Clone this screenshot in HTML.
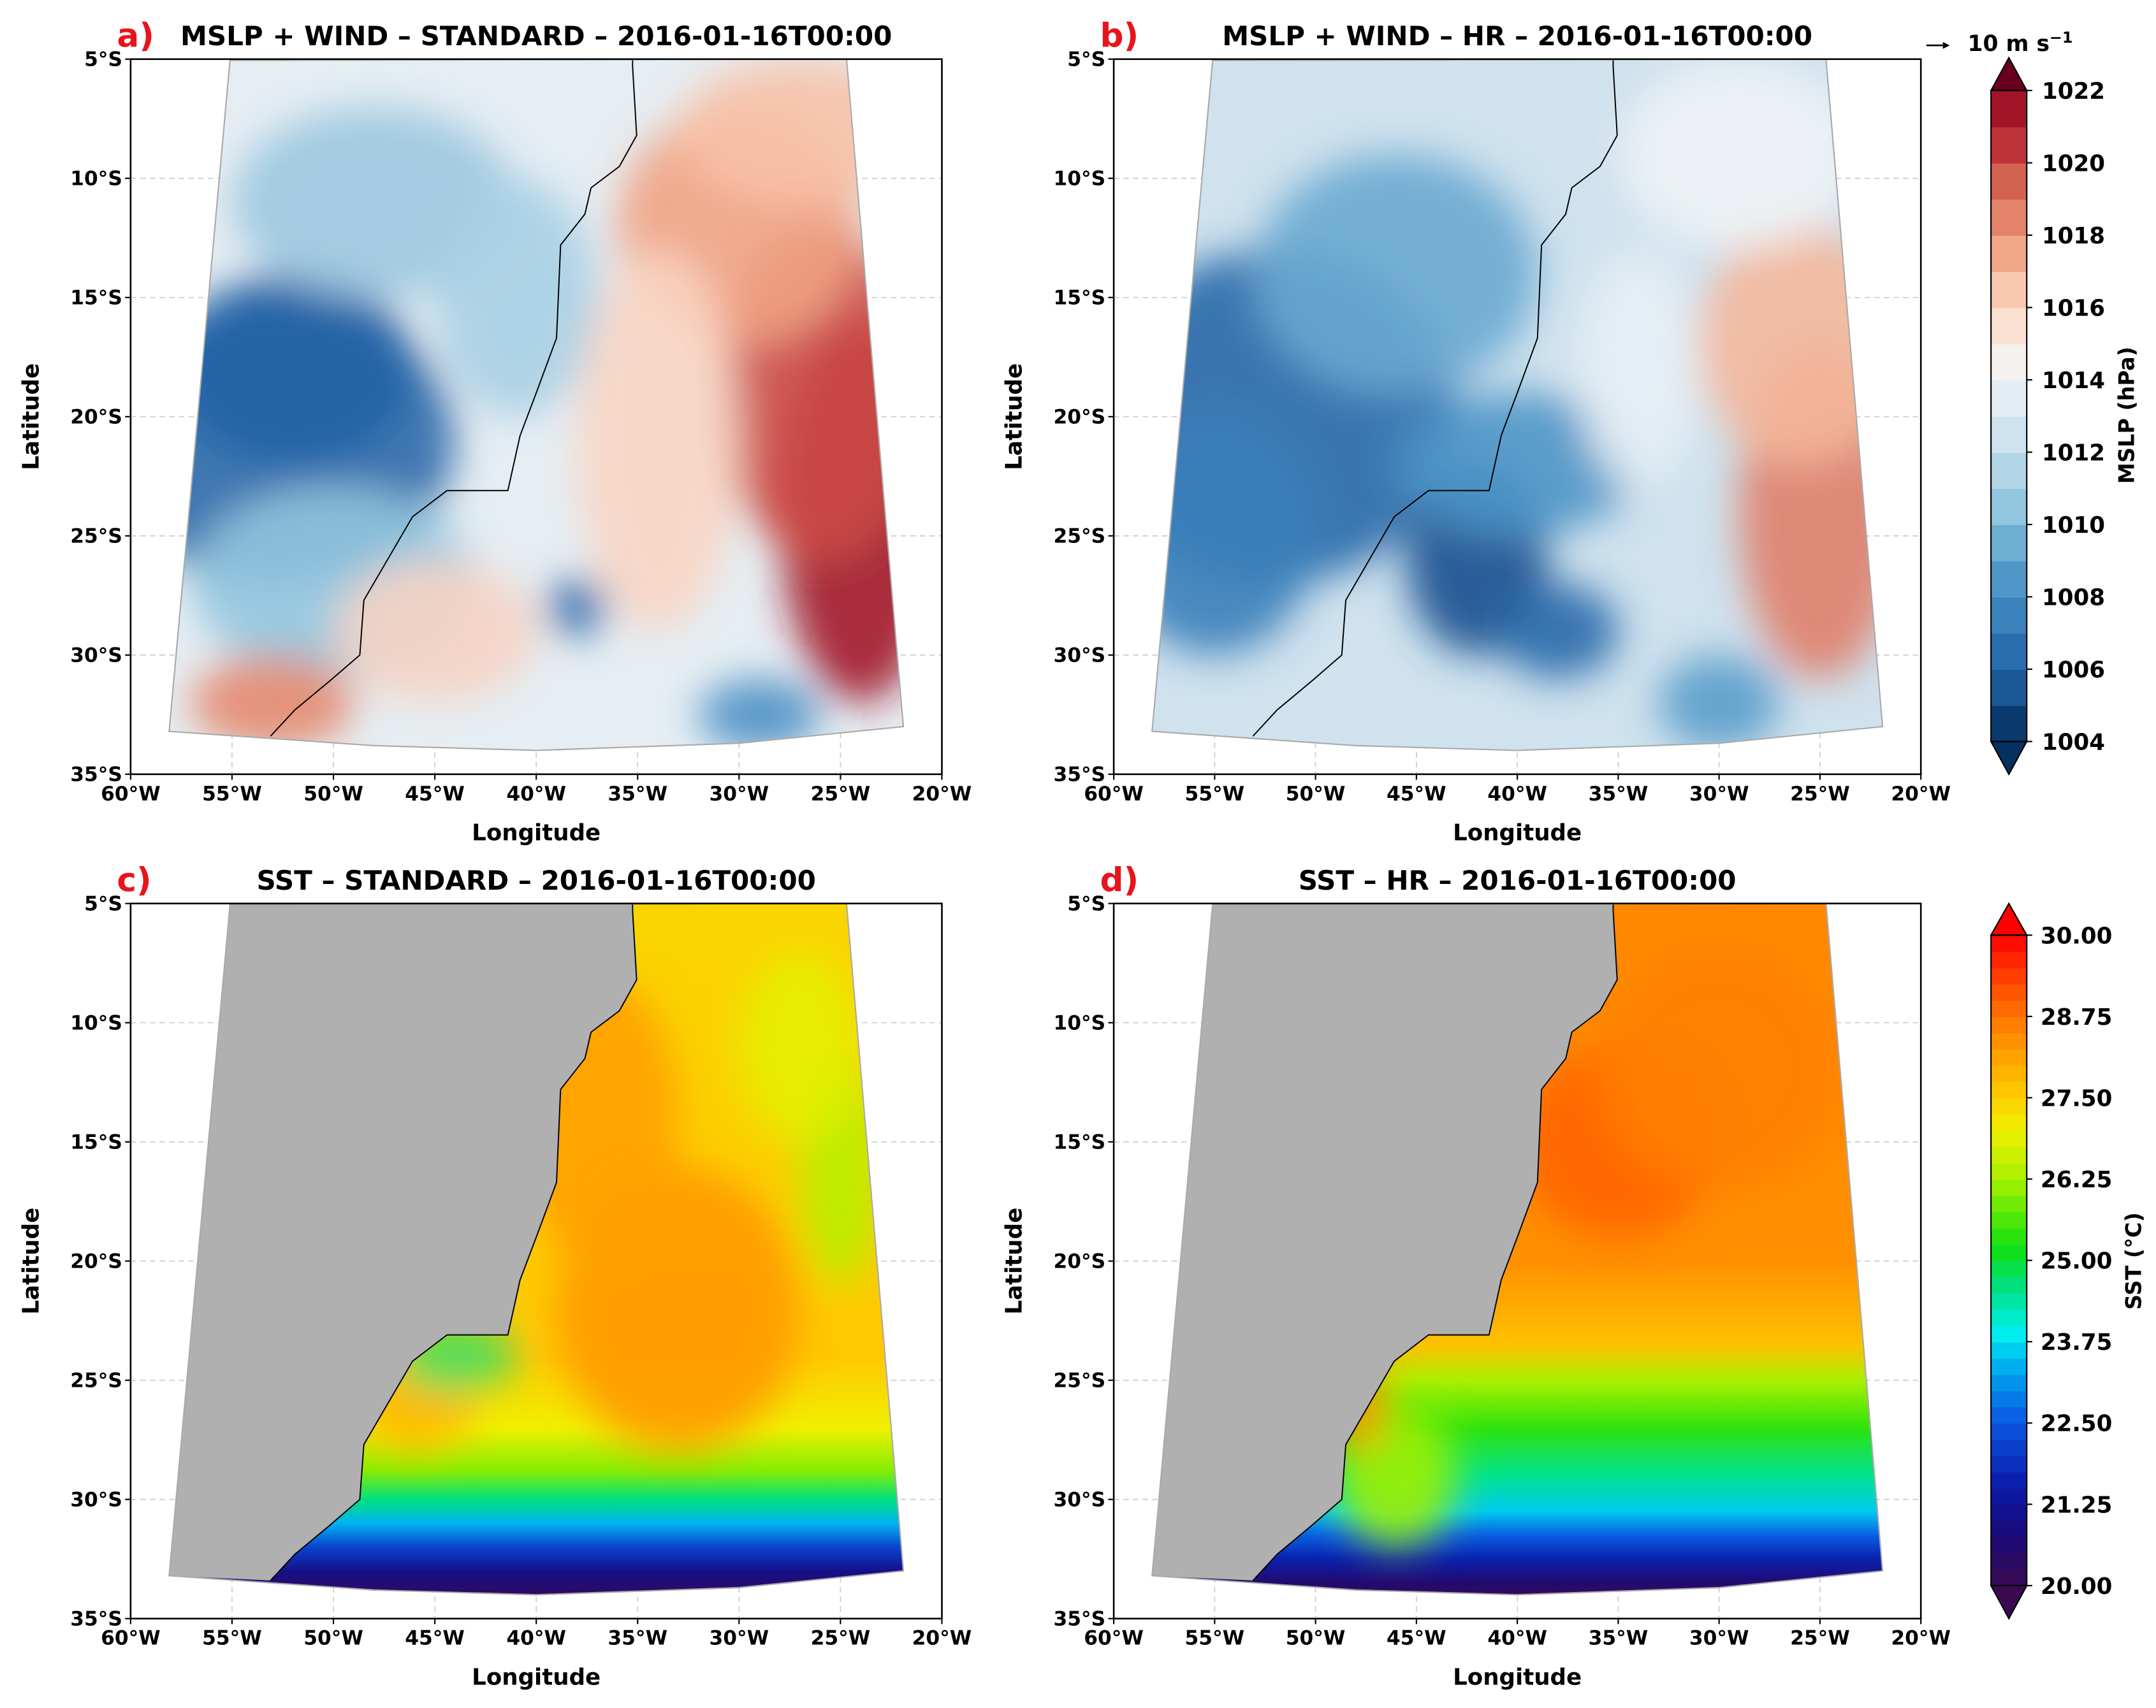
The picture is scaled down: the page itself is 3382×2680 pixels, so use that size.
<!DOCTYPE html>
<html><head><meta charset="utf-8"><style>
html,body{margin:0;padding:0;background:#fff}
svg{display:block}
text{font-family:"DejaVu Sans","Liberation Sans",sans-serif}
</style></head><body>
<svg id="fig" xmlns="http://www.w3.org/2000/svg" width="3382" height="2680" viewBox="0 0 1568 1242" preserveAspectRatio="none">
<rect width="1568" height="1242" fill="#fff"/>
</svg>
<script>
const lonTicks=[-60,-55,-50,-45,-40,-35,-30,-25,-20];
const latTicks=[-5,-10,-15,-20,-25,-30,-35];
const mslpLevels=[1004,1005,1006,1007,1008,1009,1010,1011,1012,1013,1014,1015,1016,1017,1018,1019,1020,1021,1022];
const mslpTickLabels=["1004","1006","1008","1010","1012","1014","1016","1018","1020","1022"];
const mslpColors=["#0b3a6e","#1c5796","#2a6eb0","#3a82bb","#4f97c8","#6eaed3","#92c5de","#b3d5e8","#cfe3ef","#e4edf3","#f5f1ee","#fbe1d2","#f9c8b0","#f2a888","#e3836a","#d3614f","#bf3338","#a31429"];
const sstTickLabels=["20.00","21.25","22.50","23.75","25.00","26.25","27.50","28.75","30.00"];
const sstTickValues=[20,21.25,22.5,23.75,25,26.25,27.5,28.75,30];
const coast=[[-35.25,-5.0],[-35.25,-5.3],[-35.05,-8.2],[-35.9,-9.5],[-37.3,-10.4],[-37.6,-11.5],[-38.8,-12.8],[-39.0,-16.7],[-40.0,-19.0],[-40.8,-20.8],[-41.4,-23.1],[-44.4,-23.1],[-46.1,-24.2],[-48.5,-27.7],[-48.7,-30.0],[-50.2,-31.1],[-51.9,-32.3],[-53.1,-33.4]];
const domainW=[[-55.1,-5.05]];
const domainE=[[-24.7,-5.0],[-21.9,-33.0],[-30,-33.7],[-40,-34.0],[-48,-33.8],[-58.1,-33.2]];
function sstColor(v){
  const st=[[20,"#3a0a50"],[20.8,"#1a0a7a"],[21.5,"#0a1aa8"],[22.5,"#0a55e0"],[23.3,"#00a6f0"],[23.9,"#00f0f0"],[24.6,"#00e080"],[25.2,"#10e010"],[26.2,"#a0f000"],[27.0,"#f0f000"],[27.6,"#ffc800"],[28.4,"#ff9000"],[29.2,"#ff5000"],[30,"#ff0000"]];
  for(let i=0;i<st.length-1;i++){if(v<=st[i+1][0]){const a=hex(st[i][1]),b=hex(st[i+1][1]),t=(v-st[i][0])/(st[i+1][0]-st[i][0]);return "rgb("+a.map((c,k)=>Math.round(c+(b[k]-c)*t)).join(",")+")";}}
  return st[st.length-1][1];
}
function hex(h){return [1,3,5].map(i=>parseInt(h.substr(i,2),16));}
const NS="http://www.w3.org/2000/svg";
const svg=document.getElementById('fig');
function el(tag,attrs,parent){const e=document.createElementNS(NS,tag);for(const k in attrs)e.setAttribute(k,attrs[k]);(parent||svg).appendChild(e);return e;}
const defs=el('defs',{});
const blur=el('filter',{id:'blur',x:'-50%',y:'-50%',width:'200%',height:'200%'},defs);
el('feGaussianBlur',{stdDeviation:'14'},blur);
const panels=[
 {id:'a',x0:95,x1:685,y0:43,y1:563,title:'MSLP + WIND \u2013 STANDARD \u2013 2016-01-16T00:00',kind:'mslp',
  base:"#e6eef3",blobs:[[-53,-21,9,6,"#2b6aab"],[-52,-18,6,4,"#2363a5"],[-48,-11,7,4,"#9cc7df"],[-41,-15,4,5,"#a9cfe4"],[-50,-27,7,4,"#92c5de"],[-24,-24,4,8,"#a3142a"],[-26,-19,5,7,"#cc4a46"],[-30,-12,6,5,"#f1a383"],[-27,-8,6,3,"#f7c2a8"],[-34,-21,4,8,"#f8d5c3"],[-53,-32,4,2,"#e48a6e"],[-38,-28,1.5,1.2,"#2f6fad"],[-29,-32.5,3,1.5,"#4b8fc4"],[-45,-29,5,3,"#f6d3c3"]]},
 {id:'b',x0:810,x1:1397,y0:43,y1:563,title:'MSLP + WIND \u2013 HR \u2013 2016-01-16T00:00',kind:'mslp',
  base:"#cfe2ee",blobs:[[-52,-20,9,7,"#2a6aab"],[-55,-25,5,5,"#3a80ba"],[-42,-26,3.5,4,"#17508f"],[-38,-29,3,2,"#2a6aab"],[-46,-14,7,5,"#6aa9d0"],[-40,-22,6,3,"#4d95c7"],[-25,-24,4,7,"#e0806a"],[-26,-17,5,5,"#f4b79b"],[-29,-9,6,4,"#eef2f4"],[-30,-32,3,2,"#5b9dca"],[-34,-18,3,5,"#e7eff4"]]},
 {id:'c',x0:95,x1:685,y0:657,y1:1177,title:'SST \u2013 STANDARD \u2013 2016-01-16T00:00',kind:'sst',
  grad:[[-5,27.4],[-24,27.6],[-27,27.0],[-28.8,26.0],[-30,24.6],[-31,23.4],[-32,22.2],[-33,21.0],[-34,20.3]],
  blobs:[[-33,-22,6,6,"#ff9a00"],[-37,-14,4,6,"#ffa000"],[-25,-16,2,5,"#b8f000"],[-27,-11,3,4,"#e6f000"],[-46,-26,3,2,"#ffb800"],[-44,-24,3,1.5,"#40e060"]]},
 {id:'d',x0:810,x1:1397,y0:657,y1:1177,title:'SST \u2013 HR \u2013 2016-01-16T00:00',kind:'sst',
  grad:[[-5,28.5],[-20,28.4],[-23.5,27.7],[-25,26.3],[-27,25.4],[-29,24.5],[-30.5,23.6],[-31.5,22.6],[-32.5,21.6],[-33.5,20.6],[-34,20.2]],
  blobs:[[-35,-15,5,4,"#ff6400"],[-30,-12,6,5,"#ff8000"],[-46,-29,3,3,"#a0f000"],[-48,-26,1.5,2,"#ff9000"]]}
];
panels.forEach(p=>{
  const X=lon=>p.x0+(lon+60)/40*(p.x1-p.x0);
  const Y=lat=>p.y0+(-5-lat)/30*(p.y1-p.y0);
  const g=el('g',{},svg);
  
  
  lonTicks.slice(1,-1).forEach(l=>{const ln=el('line',{x1:X(l),x2:X(l),y1:p.y0,y2:p.y1,stroke:'#ccc','stroke-width':0.8,'stroke-dasharray':'4,3'},g);});
  latTicks.slice(1,-1).forEach(l=>{const ln=el('line',{x1:p.x0,x2:p.x1,y1:Y(l),y2:Y(l),stroke:'#ccc','stroke-width':0.8,'stroke-dasharray':'4,3'},g);});
  const dom=domainW.concat(domainE);
  const domPts=dom.map(q=>X(q[0])+','+Y(q[1])).join(' ');
  const cp=el('clipPath',{id:'clip'+p.id},defs);
  el('polygon',{points:domPts},cp);
  const field=el('g',{'clip-path':'url(#clip'+p.id+')'},g);
  
  
  if(p.kind==='mslp'){
    el('rect',{x:p.x0,y:p.y0,width:p.x1-p.x0,height:p.y1-p.y0,fill:p.base},field);
  } else {
    const lg=el('linearGradient',{id:'sg'+p.id,gradientUnits:'userSpaceOnUse',x1:0,x2:0,y1:Y(-5),y2:Y(-34)},defs);
    p.grad.forEach(s=>el('stop',{offset:((-5-s[0])/29).toFixed(3),'stop-color':sstColor(s[1])},lg));
    el('rect',{x:p.x0,y:p.y0,width:p.x1-p.x0,height:p.y1-p.y0,fill:'url(#sg'+p.id+')'},field);
  }
  const bg=el('g',{filter:'url(#blur)'},field);
  p.blobs.forEach(b=>{const e=el('ellipse',{cx:X(b[0]),cy:Y(b[1]),rx:b[2]/40*(p.x1-p.x0),ry:b[3]/30*(p.y1-p.y0),fill:b[4],opacity:0.9},bg);});
  const landPts=[[-55.1,-5.05]].concat(coast).concat([[-58.1,-33.2]]);
  if(p.kind==='sst'){
    const land=el('polygon',{points:landPts.map(q=>X(q[0])+','+Y(q[1])).join(' '),fill:'#b0b0b0',stroke:'none'},field);
    
  }
  const cl=el('polyline',{points:coast.map(q=>X(q[0])+','+Y(q[1])).join(' '),fill:'none',stroke:'#000','stroke-width':0.9},g);
  
  const de=el('polygon',{points:domPts,fill:'none',stroke:'#aaa','stroke-width':1},g);
  
  const fr=el('rect',{x:p.x0,y:p.y0,width:p.x1-p.x0,height:p.y1-p.y0,fill:'none',stroke:'#000','stroke-width':1.2},g);
  
  lonTicks.forEach(l=>{
    el('line',{x1:X(l),x2:X(l),y1:p.y1,y2:p.y1+4,stroke:'#000','stroke-width':1},g);
    const t=el('text',{x:X(l),y:p.y1+19,'font-size':14.5,'font-weight':'bold','text-anchor':'middle'},g);
    t.textContent=Math.abs(l)+'\u00b0W';
    
  });
  latTicks.forEach(l=>{
    el('line',{x1:p.x0-4,x2:p.x0,y1:Y(l),y2:Y(l),stroke:'#000','stroke-width':1},g);
    const t=el('text',{x:p.x0-6,y:Y(l)+5,'font-size':14.5,'font-weight':'bold','text-anchor':'end'},g);
    t.textContent=Math.abs(l)+'\u00b0S';
    
  });
  const xl=el('text',{x:(p.x0+p.x1)/2,y:p.y1+48,'font-size':16.5,'font-weight':'bold','text-anchor':'middle'},g);
  xl.textContent='Longitude';
  const yl=el('text',{x:0,y:0,'font-size':16.5,'font-weight':'bold','text-anchor':'middle',transform:'translate('+(p.x0-67)+','+((p.y0+p.y1)/2)+') rotate(-90)'},g);
  yl.textContent='Latitude';
  const tt=el('text',{x:(p.x0+p.x1)/2,y:p.y0-10,'font-size':19.5,'font-weight':'bold','text-anchor':'middle'},g);
  tt.textContent=p.title;
  const lb=el('text',{x:p.x0-10,y:p.y0-9,'font-size':24,'font-weight':'bold',fill:'#e8141c'},g);
  lb.textContent=p.id+')';
});
(function(){
  const g=el('g',{});
  const x0=1448,x1=1474,top=65.8,bot=539.2,n=mslpLevels.length-1;
  const Yc=v=>bot-(v-mslpLevels[0])/(mslpLevels[n]-mslpLevels[0])*(bot-top);
  for(let i=0;i<n;i++){const r=el('rect',{x:x0,y:Yc(mslpLevels[i+1]),width:x1-x0,height:Yc(mslpLevels[i])-Yc(mslpLevels[i+1])+0.5,fill:mslpColors[i]},g);}
  el('polygon',{points:`${x0},${top} ${x1},${top} ${(x0+x1)/2},42`,fill:'#67001f',stroke:'#000','stroke-width':1},g);
  el('polygon',{points:`${x0},${bot} ${x1},${bot} ${(x0+x1)/2},563`,fill:'#053061',stroke:'#000','stroke-width':1},g);
  el('rect',{x:x0,y:top,width:x1-x0,height:bot-top,fill:'none',stroke:'#000','stroke-width':1},g);
  mslpTickLabels.forEach(s=>{const v=+s;el('line',{x1:x1,x2:x1+4,y1:Yc(v),y2:Yc(v),stroke:'#000'},g);const t=el('text',{x:x1+11,y:Yc(v)+6,'font-size':16.5,'font-weight':'bold'},g);t.textContent=s;});
  const t=el('text',{x:0,y:0,'font-size':15.5,'font-weight':'bold','text-anchor':'middle',transform:'translate(1552,302) rotate(-90)'},g);t.textContent='MSLP (hPa)';
  el('line',{x1:1401,x2:1415,y1:33,y2:33,stroke:'#000','stroke-width':1.2},g);
  el('polygon',{points:'1413,30.5 1418,33 1413,35.5',fill:'#000'},g);
  const k=el('text',{x:1431,y:37,'font-size':16,'font-weight':'bold'},g);k.innerHTML='10 m s<tspan dy="-6" font-size="11">\u22121</tspan>';
})();
(function(){
  const g=el('g',{});
  const x0=1448,x1=1474,top=680,bot=1153;
  const Yc=v=>bot-(v-20)/10*(bot-top);
  const N=40;
  for(let i=0;i<N;i++){const v0=20+i*10/N,v1=v0+10/N;const r=el('rect',{x:x0,y:Yc(v1),width:x1-x0,height:Yc(v0)-Yc(v1)+0.5,fill:sstColor(v0+5/N)},g);}
  el('polygon',{points:`${x0},${top} ${x1},${top} ${(x0+x1)/2},657`,fill:'#ff0000',stroke:'#000','stroke-width':1},g);
  el('polygon',{points:`${x0},${bot} ${x1},${bot} ${(x0+x1)/2},1177`,fill:'#3a0a50',stroke:'#000','stroke-width':1},g);
  el('rect',{x:x0,y:top,width:x1-x0,height:bot-top,fill:'none',stroke:'#000','stroke-width':1},g);
  sstTickValues.forEach((v,i)=>{el('line',{x1:x1,x2:x1+4,y1:Yc(v),y2:Yc(v),stroke:'#000'},g);const t=el('text',{x:x1+10,y:Yc(v)+6,'font-size':16.5,'font-weight':'bold'},g);t.textContent=sstTickLabels[i];});
  const t=el('text',{x:0,y:0,'font-size':15.5,'font-weight':'bold','text-anchor':'middle',transform:'translate(1557,917) rotate(-90)'},g);t.textContent='SST (\u00b0C)';
})();
</script>
</body></html>
